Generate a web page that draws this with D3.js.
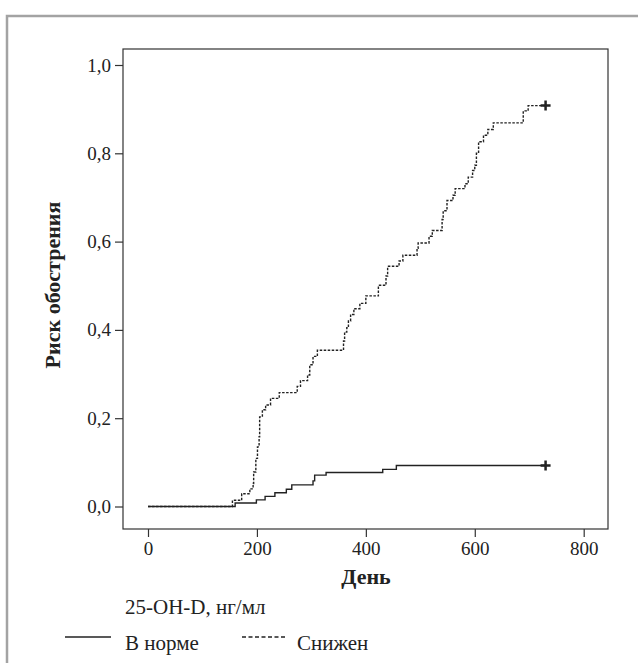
<!DOCTYPE html>
<html>
<head>
<meta charset="utf-8">
<script src="https://cdn.jsdelivr.net/npm/d3@7"></script>
<style>
  body { margin: 0; background: #fff; }
  svg text { fill: #222; }
  .axis path, .axis line { stroke: #333; stroke-width: 1.2; }
</style>
</head>
<body>
<div id="chart"></div>
<script>
'use strict';
// Kaplan-Meier style cumulative risk
var normDays = [0, 160, 199, 215, 233, 254, 264, 303, 306, 327, 431, 456, 730];
var normRisk = [0, 0.008, 0.015, 0.023, 0.031, 0.039, 0.049, 0.058, 0.071, 0.077, 0.084, 0.093, 0.093];

var lowDays = [0, 155, 172, 187, 193, 194, 198, 201, 204, 205, 210, 216, 225, 241, 274, 280, 293, 297, 303, 311,
  359, 361, 365, 368, 372, 378, 389, 400, 423, 437, 440, 461, 468, 494, 496, 516, 522, 540, 542, 549, 560, 564,
  582, 588, 596, 600, 603, 607, 616, 624, 634, 689, 698, 730];
var lowRisk = [0, 0.014, 0.029, 0.040, 0.052, 0.078, 0.109, 0.135, 0.158, 0.203, 0.219, 0.230, 0.245, 0.258, 0.272, 0.285, 0.298, 0.321, 0.340, 0.354,
  0.375, 0.395, 0.405, 0.420, 0.435, 0.448, 0.460, 0.477, 0.501, 0.522, 0.544, 0.556, 0.569, 0.585, 0.597, 0.612, 0.625, 0.650, 0.670, 0.693, 0.705, 0.720,
  0.731, 0.746, 0.761, 0.773, 0.800, 0.826, 0.841, 0.854, 0.869, 0.896, 0.908, 0.908];

var xTicks = [0, 200, 400, 600, 800];
var yTicks = [0, 0.2, 0.4, 0.6, 0.8, 1.0];

var legendTitle = '25-OH-D, нг/мл';
var seriesNames = ['В норме', 'Снижен'];

var width = 638, height = 663;
var frame = {left: 123, top: 49, right: 608, bottom: 529};
var serif = 'Tinos, "Times New Roman", Times, "Liberation Serif", "DejaVu Serif", serif';

var x = d3.scaleLinear().domain([0, 800]).range([148, 583.7]);
var y = d3.scaleLinear().domain([0, 1]).range([506.5, 65]);

var svg = d3.select('#chart').append('svg')
  .attr('width', width)
  .attr('height', height)
  .style('font-family', serif);

// outer page border
svg.append('rect')
  .attr('x', 7).attr('y', 16)
  .attr('width', 700).attr('height', 700)
  .attr('fill', 'none')
  .attr('stroke', '#a3a3a3')
  .attr('stroke-width', 2.5);

// plot frame
svg.append('rect')
  .attr('x', frame.left).attr('y', frame.top)
  .attr('width', frame.right - frame.left)
  .attr('height', frame.bottom - frame.top)
  .attr('fill', 'none')
  .attr('stroke', '#333')
  .attr('stroke-width', 1.2);

var fmt = function(d) { return d3.format('.1f')(d).replace('.', ','); };

var yAxis = svg.append('g')
  .attr('class', 'axis')
  .attr('transform', 'translate(' + frame.left + ',0)')
  .call(d3.axisLeft(y).tickValues(yTicks).tickFormat(fmt).tickSize(8).tickPadding(4));
yAxis.attr('font-family', null).attr('font-size', 19);
yAxis.select('.domain').remove();

var xAxis = svg.append('g')
  .attr('class', 'axis')
  .attr('transform', 'translate(0,' + frame.bottom + ')')
  .call(d3.axisBottom(x).tickValues(xTicks).tickFormat(d3.format('d')).tickSize(8).tickPadding(5));
xAxis.attr('font-family', null).attr('font-size', 19);
xAxis.select('.domain').remove();

svg.append('text')
  .attr('x', 366).attr('y', 584)
  .attr('text-anchor', 'middle')
  .style('font-size', '22px')
  .style('font-weight', 'bold')
  .text('День');

svg.append('text')
  .attr('transform', 'translate(60,285) rotate(-90)')
  .attr('text-anchor', 'middle')
  .style('font-size', '22px')
  .style('font-weight', 'bold')
  .text('Риск обострения');

var line = d3.line()
  .x(function(d) { return x(d[0]); })
  .y(function(d) { return y(d[1]); })
  .curve(d3.curveStepAfter);

var normData = d3.zip(normDays, normRisk);
var lowData = d3.zip(lowDays, lowRisk);

svg.append('path')
  .datum(normData)
  .attr('d', line)
  .attr('fill', 'none')
  .attr('stroke', '#222')
  .attr('stroke-width', 1.4);

svg.append('path')
  .datum(lowData)
  .attr('d', line)
  .attr('fill', 'none')
  .attr('stroke', '#222')
  .attr('stroke-width', 1.4)
  .attr('stroke-dasharray', '2.5,1.5');

// censor marks at the end of follow-up
[normData[normData.length - 1], lowData[lowData.length - 1]].forEach(function(d) {
  var cx = x(d[0]), cy = y(d[1]);
  svg.append('path')
    .attr('d', 'M' + (cx - 5) + ',' + cy + 'H' + (cx + 5) + 'M' + cx + ',' + (cy - 5) + 'V' + (cy + 5))
    .attr('stroke', '#222')
    .attr('stroke-width', 2.5);
});

// legend
svg.append('text')
  .attr('x', 125).attr('y', 614)
  .style('font-size', '21px')
  .text(legendTitle);

svg.append('line')
  .attr('x1', 65).attr('x2', 111)
  .attr('y1', 637).attr('y2', 637)
  .attr('stroke', '#222').attr('stroke-width', 1.4);
svg.append('text')
  .attr('x', 125).attr('y', 650)
  .style('font-size', '21px')
  .text(seriesNames[0]);

svg.append('line')
  .attr('x1', 242).attr('x2', 287)
  .attr('y1', 637).attr('y2', 637)
  .attr('stroke', '#222').attr('stroke-width', 1.4)
  .attr('stroke-dasharray', '4,2.5');
svg.append('text')
  .attr('x', 297).attr('y', 650)
  .style('font-size', '21px')
  .text(seriesNames[1]);
</script>
</body>
</html>
